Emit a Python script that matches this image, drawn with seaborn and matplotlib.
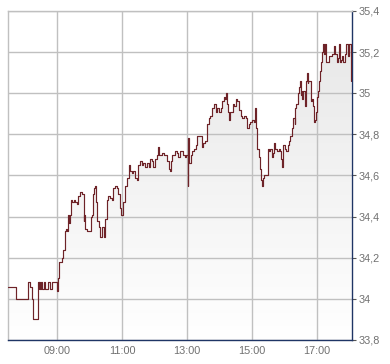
import numpy as np
import pandas as pd
import matplotlib
matplotlib.use("Agg")
import matplotlib.pyplot as plt
import seaborn as sns
from matplotlib.colors import LinearSegmentedColormap

# time in minutes since midnight, price values
minutes = [449, 465, 487, 491, 494, 496, 504, 506, 507, 509, 511, 513, 516, 518, 524, 527, 530,
           540, 542, 544, 547, 550, 551, 554, 557, 559, 561, 563, 564, 566, 568, 571, 573, 576,
           579, 583, 586, 589, 590, 592, 596, 600, 602, 605, 607, 609, 611, 612, 614, 618, 619,
           623, 626, 629, 632, 635, 638, 641, 644, 647, 650, 653, 656, 659, 662, 666, 669, 672,
           675, 678, 681, 684, 687, 690, 693, 696, 699, 702, 706, 709, 712, 715, 718, 721, 724,
           727, 729, 733, 738, 743, 746, 749, 751, 753, 757, 761, 764, 767, 770, 773, 776, 779,
           781, 782, 784, 787, 790, 793, 796, 799, 802, 805, 807, 809, 813, 817, 820, 823, 827,
           830, 833, 836, 839, 842, 845, 848, 850, 852, 854, 856, 857, 860, 864, 867, 870, 873,
           876, 879, 882, 885, 888, 891, 894, 897, 900, 903, 905, 908, 910, 913, 914, 916, 918,
           920, 923, 930, 932, 934, 936, 938, 940, 942, 947, 950, 951, 954, 956, 958, 961, 963,
           966, 968, 970, 973, 974, 976, 979, 980, 982, 984, 986, 988, 990, 992, 993, 995, 997,
           999, 1001, 1003, 1004, 1006, 1009, 1011, 1013, 1015, 1017, 1019, 1020, 1022, 1024,
           1026, 1028, 1030, 1031, 1032, 1034, 1036, 1037, 1040, 1042, 1045, 1048, 1051, 1052,
           1054, 1056, 1058, 1060, 1062, 1065, 1066, 1068, 1071, 1072, 1074, 1077, 1079, 1080,
           1082, 1083]
prices = [34.06, 34.00, 34.08, 34.06, 34.00, 33.90, 34.08, 34.05, 34.08, 34.05, 34.08, 34.05, 34.08,
          34.05, 34.08, 34.05, 34.08,
          34.04, 34.10, 34.18, 34.18, 34.20, 34.24, 34.33, 34.34, 34.33, 34.41, 34.37, 34.41,
          34.48, 34.47, 34.48, 34.47, 34.46,
          34.50, 34.52, 34.51, 34.38, 34.41, 34.34, 34.33, 34.33, 34.40, 34.41, 34.51, 34.54,
          34.55, 34.47, 34.38, 34.35, 34.30,
          34.35, 34.30, 34.39, 34.48, 34.50, 34.49, 34.48, 34.54, 34.55, 34.54, 34.51, 34.44,
          34.41, 34.47, 34.55, 34.59, 34.65,
          34.62, 34.61, 34.62, 34.59, 34.58, 34.65, 34.67, 34.65, 34.66, 34.64, 34.66, 34.64,
          34.68, 34.67, 34.64, 34.68, 34.70,
          34.74, 34.70, 34.71, 34.70, 34.67, 34.63, 34.62, 34.67, 34.70, 34.72, 34.71, 34.69,
          34.72, 34.72, 34.70, 34.69, 34.70,
          34.55, 34.78, 34.66, 34.70, 34.72, 34.73, 34.75, 34.79, 34.79, 34.79, 34.74, 34.76,
          34.77, 34.85, 34.88, 34.89, 34.93,
          34.95, 34.91, 34.93, 34.91, 34.93, 34.96, 34.98, 34.97, 35.00, 34.95, 34.91, 34.87,
          34.91, 34.95, 34.94, 34.97, 34.96,
          34.92, 34.89, 34.88, 34.89, 34.88, 34.83, 34.85, 34.86, 34.87, 34.86, 34.93, 34.83,
          34.73, 34.69, 34.63, 34.58, 34.55,
          34.59, 34.60, 34.73, 34.72, 34.73, 34.69, 34.71, 34.76, 34.73, 34.72, 34.73, 34.72,
          34.68, 34.64, 34.75, 34.73, 34.72,
          34.75, 34.77, 34.79, 34.80, 34.83, 34.88, 34.85, 34.93, 34.95, 35.00, 35.03, 35.06,
          34.99, 35.01, 34.97, 35.01, 34.94,
          35.06, 35.10, 35.05, 35.06, 35.06, 34.96, 34.97, 34.94, 34.86, 34.87, 34.91, 34.98,
          35.01, 35.06,
          35.11, 35.15, 35.20, 35.24, 35.19, 35.24, 35.15, 35.15, 35.15, 35.18, 35.18, 35.19,
          35.19, 35.23,
          35.19, 35.15, 35.17, 35.24, 35.15, 35.16, 35.18, 35.15, 35.15, 35.19, 35.24, 35.18,
          35.24, 35.24,
          35.13, 35.06]

x_ticks = [540, 660, 780, 900, 1020]
x_labels = ["09:00", "11:00", "13:00", "15:00", "17:00"]
y_ticks = [33.8, 34.0, 34.2, 34.4, 34.6, 34.8, 35.0, 35.2, 35.4]
y_labels = ["33,8", "34", "34,2", "34,4", "34,6", "34,8", "35", "35,2", "35,4"]

df = pd.DataFrame({"t": minutes, "price": prices})

sns.set_style("white")
plt.rcParams["font.family"] = ["Liberation Sans", "DejaVu Sans"]

fig = plt.figure(figsize=(3.9, 3.64), dpi=100)
ax = fig.add_axes([8 / 390, 24 / 364, 344 / 390, 329 / 364])

xmin, xmax = 449.5, 1084.6
ymin, ymax = 33.8, 35.4

# gradient fill under the line
poly = ax.fill_between(df["t"], df["price"], ymin, step="post", facecolor="none",
                       edgecolor="none")
cmap = LinearSegmentedColormap.from_list("g", ["#ffffff", "#e6e6e6"])
grad = np.linspace(0, 1, 256).reshape(-1, 1)
im = ax.imshow(grad, extent=[xmin, xmax, ymin, ymax], origin="lower", aspect="auto",
               cmap=cmap, zorder=0.2, interpolation="bilinear")
im.set_clip_path(poly.get_paths()[0], transform=ax.transData)

sns.lineplot(data=df, x="t", y="price", ax=ax, estimator=None, sort=False,
             drawstyle="steps-post", color="#6e2328", linewidth=0.85, zorder=3)

ax.set_xlim(xmin, xmax)
ax.set_ylim(ymin, ymax)
ax.set_xticks(x_ticks)
ax.set_xticklabels(x_labels)
ax.set_yticks(y_ticks)
ax.set_yticklabels(y_labels)
ax.yaxis.tick_right()
ax.set_xlabel("")
ax.set_ylabel("")

ax.grid(True, color="#c0c0c0", linewidth=1.0)
ax.set_axisbelow(True)

for side in ["top", "left"]:
    ax.spines[side].set_color("#c0c0c0")
    ax.spines[side].set_linewidth(1.0)
for side in ["right", "bottom"]:
    ax.spines[side].set_color("#1f3565")
    ax.spines[side].set_linewidth(1.0)
    ax.spines[side].set_visible(True)

ax.tick_params(axis="x", direction="out", length=3, width=0.8, color="#888888",
               labelcolor="#707070", labelsize=7.8, pad=1.5)
ax.tick_params(axis="y", direction="out", length=3, width=0.8, color="#555555",
               labelcolor="#707070", labelsize=7.8, pad=1.5, right=True, left=False)

fig.savefig("out.png", dpi=100)
